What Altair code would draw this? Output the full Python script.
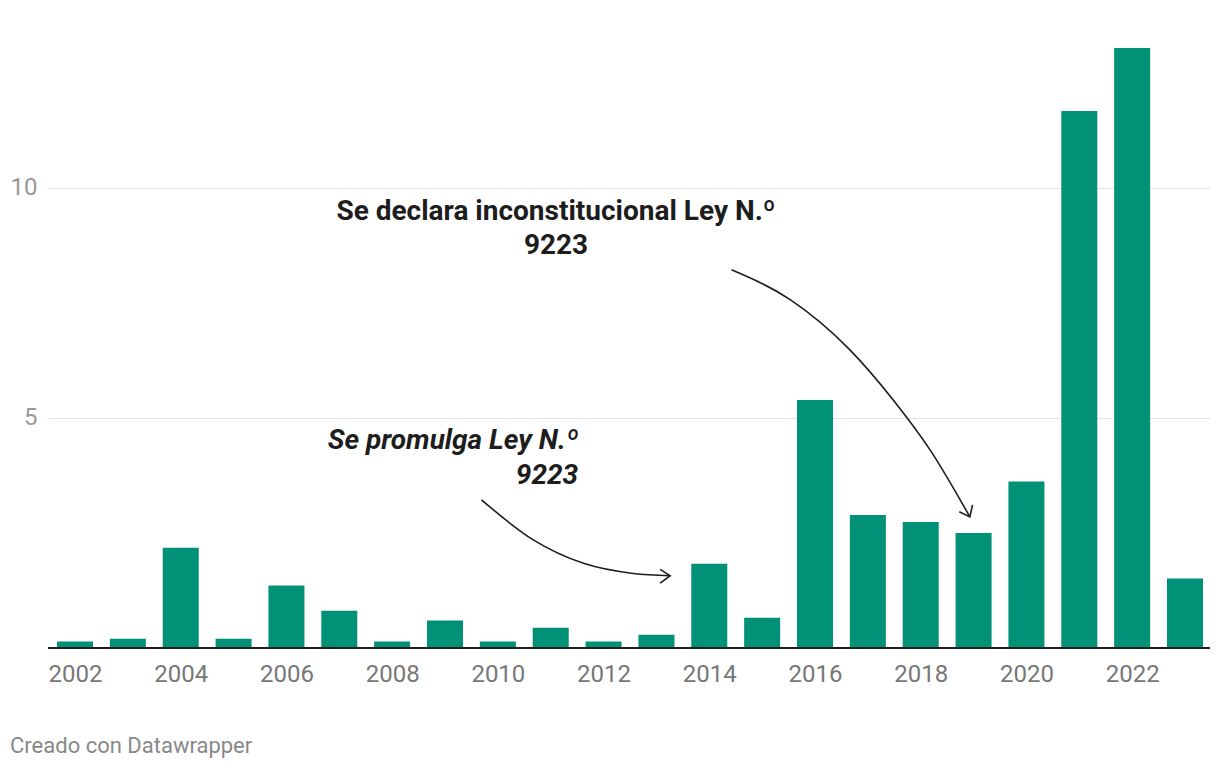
import altair as alt
import pandas as pd

# ---- data ----
years = list(range(2002, 2024))
values = [0.14, 0.2, 2.18, 0.2, 1.36, 0.81, 0.14, 0.6, 0.14, 0.44, 0.14, 0.29,
          1.83, 0.66, 5.39, 2.89, 2.74, 2.5, 3.62, 11.67, 13.04, 1.51]

tick_years = list(range(2002, 2023, 2))
y_ticks = [5, 10]

# annotation texts (in data coordinates: year, value)
ann1_text = ["Se declara inconstitucional Ley N.º", "9223"]
ann1_x = [2011.10, 2011.10]
ann1_y = [9.30, 8.57]

ann2_text = ["Se promulga Ley N.º", "9223"]
ann2_x = [2011.52, 2011.52]
ann2_y = [4.33, 3.57]

# arrow paths (data coordinates)
arrow1_x = [2014.42, 2015.53, 2016.66, 2017.48, 2018.18, 2018.93]
arrow1_y = [8.22, 7.57, 6.48, 5.39, 4.30, 2.85]
head1_x = [2018.73, 2018.93, 2018.98]
head1_y = [2.96, 2.85, 3.11]

arrow2_x = [2009.69, 2010.67, 2011.62, 2012.56, 2013.26]
arrow2_y = [3.22, 2.35, 1.84, 1.62, 1.57]
head2_x = [2013.07, 2013.26, 2013.07]
head2_y = [1.71, 1.57, 1.41]

FONT = "Roboto"
X_DOMAIN = [2001.489, 2023.473]
Y_DOMAIN = [0, 13.04]

bars_df = pd.DataFrame({"year": years, "value": values})

x_enc = alt.X("year:Q", scale=alt.Scale(domain=X_DOMAIN, nice=False, zero=False, padding=0),
              axis=alt.Axis(values=tick_years, format="d", title=None, grid=False,
                            domain=False, ticks=False, tickSize=0, labelFontSize=24,
                            labelColor="#777777", labelFont=FONT, labelPadding=14,
                            labelFlush=False))
y_enc = alt.Y("value:Q", scale=alt.Scale(domain=Y_DOMAIN, nice=False, padding=0),
              axis=alt.Axis(values=y_ticks, title=None, domain=False, ticks=False,
                            tickSize=0, grid=True, gridColor="#e3e3e3", gridWidth=1,
                            labelAlign="right", labelPadding=11, labelFontSize=24,
                            labelColor="#999999", labelFont=FONT, labelBaseline="middle"))

bars = alt.Chart(bars_df).mark_bar(width=36, color="#009176").encode(x=x_enc, y=y_enc)

baseline = alt.Chart(bars_df).mark_rule(color="#1e1e1e", strokeWidth=2).encode(y=alt.datum(0))

a1 = pd.DataFrame({"t": ann1_text, "x": ann1_x, "y": ann1_y})
ann1 = alt.Chart(a1).mark_text(font=FONT, fontSize=28, fontWeight="bold", color="#1d1d1d",
                               align="center", baseline="alphabetic").encode(
    x="x:Q", y="y:Q", text="t:N")

a2 = pd.DataFrame({"t": ann2_text, "x": ann2_x, "y": ann2_y})
ann2 = alt.Chart(a2).mark_text(font=FONT, fontSize=28, fontWeight="bold", fontStyle="italic",
                               color="#1d1d1d", align="right", baseline="alphabetic").encode(
    x="x:Q", y="y:Q", text="t:N")

arr1 = pd.DataFrame({"x": arrow1_x, "y": arrow1_y, "o": range(len(arrow1_x))})
arr2 = pd.DataFrame({"x": arrow2_x, "y": arrow2_y, "o": range(len(arrow2_x))})
h1 = pd.DataFrame({"x": head1_x, "y": head1_y, "o": range(3)})
h2 = pd.DataFrame({"x": head2_x, "y": head2_y, "o": range(3)})

def curve(df):
    return alt.Chart(df).mark_line(color="#1d1d1d", strokeWidth=1.6, interpolate="monotone").encode(
        x="x:Q", y="y:Q", order="o:Q")

def head(df):
    return alt.Chart(df).mark_line(color="#1d1d1d", strokeWidth=1.6, interpolate="linear").encode(
        x="x:Q", y="y:Q", order="o:Q")

chart = alt.layer(bars, baseline, curve(arr1), head(h1), curve(arr2), head(h2), ann1, ann2).properties(
    width=1162, height=600,
    background="white",
    autosize=alt.AutoSizeParams(type="none"),
    padding={"left": 40, "top": 40, "right": 0, "bottom": 114},
    title=alt.TitleParams("Creado con Datawrapper", orient="bottom", anchor="start",
                          frame="bounds", offset=50, fontSize=22, font=FONT,
                          fontWeight="normal", color="#888888"),
).configure_view(strokeWidth=0, stroke="transparent")

chart.save("out.html", embed_options={"renderer": "svg", "actions": False})
